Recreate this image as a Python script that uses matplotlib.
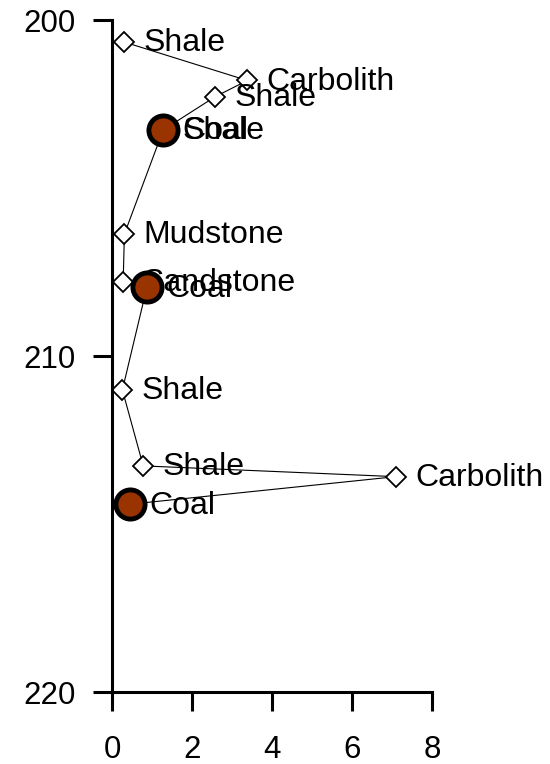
import matplotlib
matplotlib.use("Agg")
import matplotlib.pyplot as plt

# samples down the core, in depth order
depth = [200.65, 201.80, 202.28, 203.27, 203.27, 206.37, 207.79, 207.96, 211.01, 213.27, 213.59, 214.41]
value = [0.29, 3.38, 2.58, 1.28, 1.28, 0.31, 0.28, 0.87, 0.26, 0.78, 7.09, 0.45]
lith = ['Shale', 'Carbolith', 'Shale', 'Coal', 'Shale', 'Mudstone', 'Sandstone',
        'Coal', 'Shale', 'Shale', 'Carbolith', 'Coal']

x_ticks = [0, 2, 4, 6, 8]
y_ticks = [200, 210, 220]

plt.rcParams['font.family'] = ['Liberation Sans', 'DejaVu Sans']

fig = plt.figure(figsize=(5.5, 7.64), dpi=100)
ax = fig.add_axes([0.2036, 0.0942, 0.5825, 0.8796])

ax.plot(value, depth, color='black', lw=0.8, marker='D', ms=10,
        mfc='white', mec='black', mew=1.3, zorder=2)

coal_x = [v for v, l in zip(value, lith) if l == 'Coal']
coal_y = [d for d, l in zip(depth, lith) if l == 'Coal']
ax.plot(coal_x, coal_y, ls='none', marker='o', ms=21, mfc='#993300',
        mec='black', mew=3.5, zorder=4)

for v, d, l in zip(value, depth, lith):
    ax.annotate(l, (v, d), xytext=(14, -1), textcoords='offset points',
                va='center', ha='left', fontsize=23, zorder=3,
                annotation_clip=False)

ax.set_xlim(0, 8)
ax.set_ylim(220, 200)
ax.set_xticks(x_ticks)
ax.set_yticks(y_ticks)
ax.tick_params(labelsize=22.5, length=14, width=2.2)
ax.tick_params(axis='x', pad=17)
ax.tick_params(axis='y', pad=12)

for side in ['top', 'right']:
    ax.spines[side].set_visible(False)
for side in ['left', 'bottom']:
    ax.spines[side].set_linewidth(2.2)

fig.savefig('out.png', dpi=100)
